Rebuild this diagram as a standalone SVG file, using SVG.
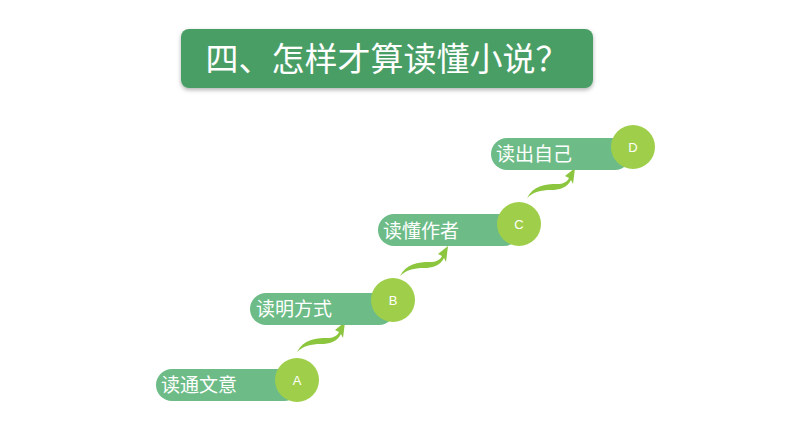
<svg xmlns="http://www.w3.org/2000/svg" width="794" height="447" viewBox="0 0 794 447">
<defs>
<style>
.bar{fill:#6dbc87}
.cir{fill:#9fcf4a}
.lbl{font-family:"Noto Sans CJK SC",sans-serif;font-size:19px;fill:#fff}
.let{font-family:"Liberation Sans",sans-serif;font-size:13px;fill:#fff;text-anchor:middle}
.arr{fill:#8cc63f}
</style>
<filter id="sh" x="-10%" y="-10%" width="120%" height="130%"><feDropShadow dx="0" dy="2" stdDeviation="2" flood-color="#000" flood-opacity="0.3"/></filter>
<path id="sw" d="M0,26 C6,14 18,12 30,12 C36,12 40,10 42,6 L38,4 L48,-4 L46,12 L44,8 C40,16 32,18 24,18 C14,18 6,20 0,26 Z"/>
</defs>
<rect width="794" height="447" fill="#fff"/>
<g id="title">
<rect x="181" y="29" width="412" height="59" rx="8" fill="#4a9e66" filter="url(#sh)"/>
<text x="387" y="71" text-anchor="middle" font-family="Noto Sans CJK SC,sans-serif" font-size="33" fill="#fff">四、怎样才算读懂小说？</text>
</g>
<g id="connectors" class="arr">
<use href="#sw" transform="translate(297,326)"/>
<use href="#sw" transform="translate(400,250)"/>
<use href="#sw" transform="translate(527,172)"/>
</g>
<g id="nodeA">
<rect class="bar" x="156" y="369" width="144" height="32" rx="16"/>
<circle class="cir" cx="297" cy="380" r="22"/>
<text class="lbl" x="161" y="392">读通文意</text>
<text class="let" x="297" y="385">A</text>
</g>
<g id="nodeB">
<rect class="bar" x="250" y="293" width="145" height="32" rx="16"/>
<circle class="cir" cx="393" cy="300" r="22"/>
<text class="lbl" x="256" y="316">读明方式</text>
<text class="let" x="393" y="305">B</text>
</g>
<g id="nodeC">
<rect class="bar" x="378" y="214" width="142" height="32" rx="16"/>
<circle class="cir" cx="519" cy="224" r="22"/>
<text class="lbl" x="383" y="238">读懂作者</text>
<text class="let" x="519" y="229">C</text>
</g>
<g id="nodeD">
<rect class="bar" x="491" y="138" width="140" height="32" rx="16"/>
<circle class="cir" cx="633" cy="147" r="22"/>
<text class="lbl" x="496" y="161">读出自己</text>
<text class="let" x="633" y="152">D</text>
</g>
</svg>
